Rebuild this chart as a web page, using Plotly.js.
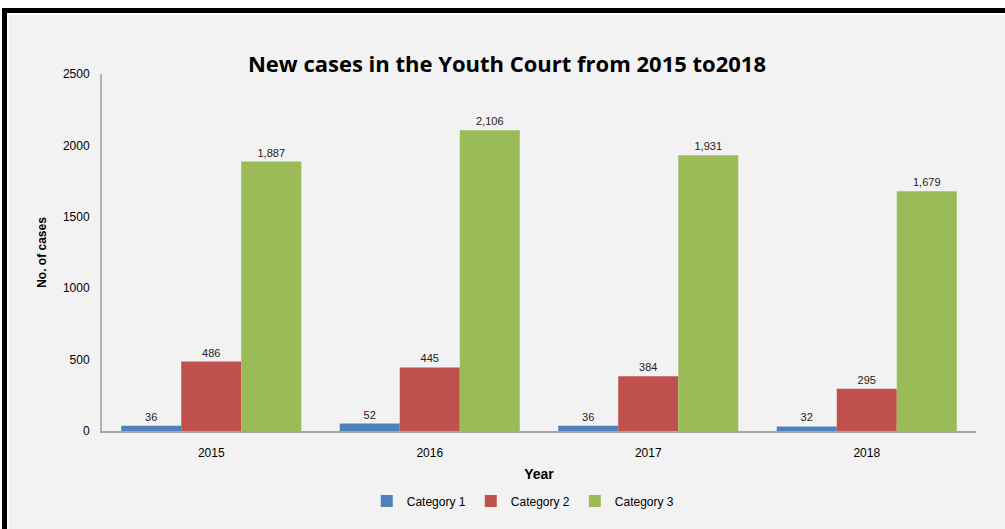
<!DOCTYPE html>
<html>
<head>
<meta charset="utf-8">
<script src="https://cdn.plot.ly/plotly-3.0.1.min.js"></script>
<style>
  html, body { margin: 0; padding: 0; background: #ffffff; width: 1005px; height: 529px; overflow: hidden; }
  #frame { position: absolute; left: 2px; top: 8px; width: 998px; height: 516px;
           border-top: 5px solid #000; border-left: 5px solid #000; background: #ffffff;
           padding-top: 2px; padding-left: 2px; }
  #chart { width: 996px; height: 514px; }
</style>
</head>
<body>
<div id="frame"><div id="chart"></div></div>
<script>
const years = ['2015', '2016', '2017', '2018'];
const seriesNames = ['Category 1', 'Category 2', 'Category 3'];
const category1 = [36, 52, 36, 32];
const category2 = [486, 445, 384, 295];
const category3 = [1887, 2106, 1931, 1679];
const colors = ['#4f81bd', '#c0504d', '#9bbb59'];
const yTicks = [0, 500, 1000, 1500, 2000, 2500];

const values = [category1, category2, category3];
const traces = values.map((v, i) => ({
  type: 'bar',
  name: seriesNames[i],
  x: years,
  y: v,
  marker: { color: colors[i], line: { width: 0 } },
  texttemplate: '%{y:,}',
  textposition: 'outside',
  cliponaxis: false,
  textfont: { family: 'Liberation Sans, Arial, sans-serif', size: 11, color: '#222' },
  hoverinfo: 'x+y+name'
}));

const layout = {
  width: 996, height: 514,
  paper_bgcolor: '#f2f2f2', plot_bgcolor: '#f2f2f2',
  margin: { l: 93, r: 29, t: 59, b: 98 },
  barmode: 'group', bargap: 0.176, bargroupgap: 0,
  title: { text: 'New cases in the Youth Court from 2015 to2018',
           font: { family: 'Open Sans, Lato, sans-serif', size: 22, color: '#000', weight: 'bold' },
           x: 0.5, xanchor: 'center', y: 0.905, yanchor: 'middle', yref: 'container' },
  font: { family: 'Liberation Sans, Arial, sans-serif', size: 12, color: '#000' },
  xaxis: {
    type: 'category',
    showline: true, linecolor: '#a6a6a6', linewidth: 2,
    ticks: '', showgrid: false, zeroline: false,
    tickfont: { size: 12, color: '#000' },
    ticklabelstandoff: 10,
    title: { text: '<b>Year</b>', font: { size: 14, color: '#000' }, standoff: 10 }
  },
  yaxis: {
    range: [0, 2500], tickvals: yTicks, ticktext: yTicks.map(String),
    showline: true, linecolor: '#b3b3b3', linewidth: 2,
    ticks: '', showgrid: false, zeroline: false,
    tickfont: { size: 12, color: '#000' },
    ticklabelstandoff: 8,
    title: { text: '<b>No. of cases</b>', font: { size: 12, color: '#000' }, standoff: 14 }
  },
  legend: { orientation: 'h', x: 0.482, xanchor: 'center', y: -0.196, yanchor: 'middle',
            font: { size: 12, color: '#000' }, itemwidth: 30, traceorder: 'normal',
            bgcolor: 'rgba(0,0,0,0)' },
  showlegend: true
};

Plotly.newPlot('chart', traces, layout, { displayModeBar: false, staticPlot: true });
</script>
</body>
</html>
